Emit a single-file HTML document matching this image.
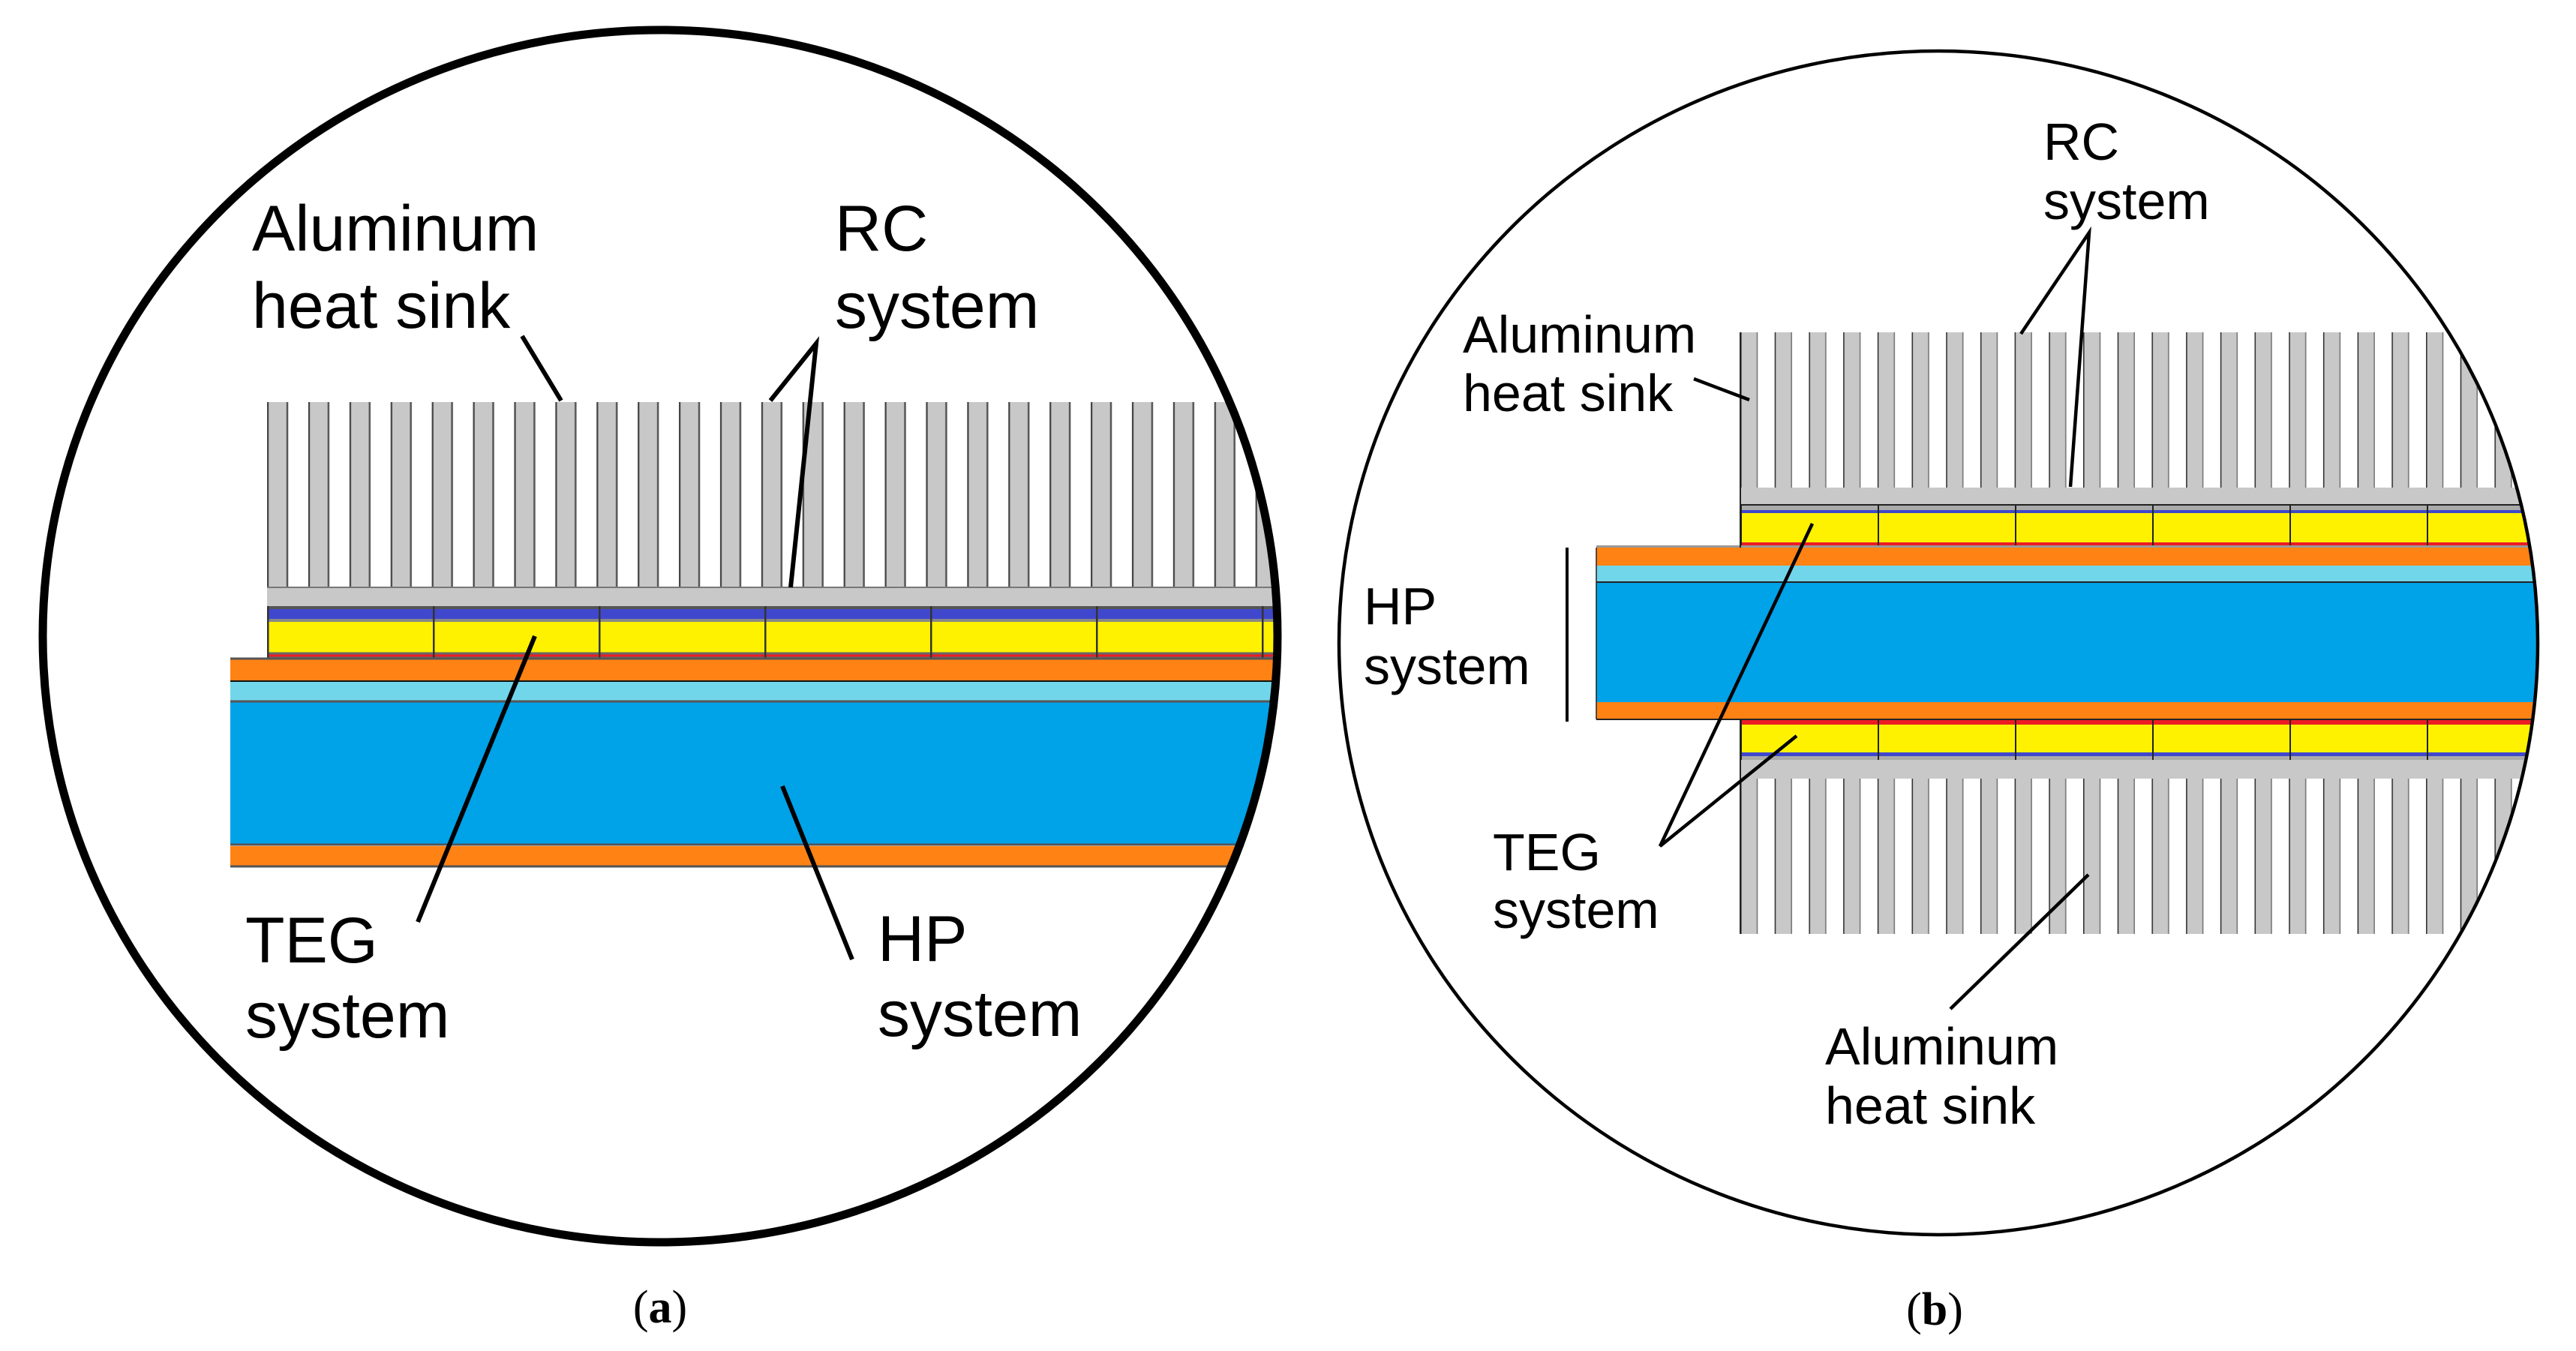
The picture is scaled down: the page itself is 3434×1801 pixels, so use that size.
<!DOCTYPE html>
<html><head><meta charset="utf-8"><style>
html,body{margin:0;padding:0;background:#fff;}
svg{display:block;}
.t{font-family:"Liberation Sans",Arial,sans-serif;fill:#000;}
.c{font-family:"Liberation Serif",serif;fill:#000;}
</style></head><body>
<svg width="3434" height="1801" viewBox="0 0 3434 1801" xmlns="http://www.w3.org/2000/svg">
<defs>
<clipPath id="ca"><ellipse cx="880" cy="848" rx="820" ry="806"/></clipPath>
<clipPath id="cb"><ellipse cx="2584" cy="857" rx="797" ry="787"/></clipPath>
<pattern id="fa" patternUnits="userSpaceOnUse" x="356" y="0" width="54.9" height="1801">
<rect x="0" y="0" width="28" height="1801" fill="#c8c8c8"/>
<line x1="1" y1="0" x2="1" y2="1801" stroke="#444" stroke-width="2.5"/>
<line x1="27" y1="0" x2="27" y2="1801" stroke="#555" stroke-width="2.5"/>
</pattern>
<pattern id="fb" patternUnits="userSpaceOnUse" x="2320" y="0" width="45.7" height="1801">
<rect x="0" y="0" width="23" height="1801" fill="#c8c8c8"/>
<line x1="0.8" y1="0" x2="0.8" y2="1801" stroke="#333" stroke-width="1.6"/>
<line x1="22.5" y1="0" x2="22.5" y2="1801" stroke="#777" stroke-width="1.6"/>
</pattern>
<pattern id="da" patternUnits="userSpaceOnUse" x="356" y="0" width="221" height="1801">
<line x1="1" y1="0" x2="1" y2="1801" stroke="#333" stroke-width="3"/>
</pattern>
<pattern id="db" patternUnits="userSpaceOnUse" x="2320" y="0" width="183" height="1801">
<line x1="1" y1="0" x2="1" y2="1801" stroke="#222" stroke-width="2"/>
</pattern>
</defs>

<!-- Panel a -->
<g clip-path="url(#ca)">
<rect x="356" y="536" width="1400" height="247" fill="url(#fa)"/>
<rect x="356" y="783" width="1400" height="25" fill="#c8c8c8"/>
<line x1="356" y1="783" x2="1756" y2="783" stroke="#777" stroke-width="2"/>
<rect x="356" y="808" width="1400" height="21" fill="#3f48cc"/>
<line x1="356" y1="810" x2="1756" y2="810" stroke="#555" stroke-width="4"/>
<line x1="356" y1="827" x2="1756" y2="827" stroke="#888" stroke-width="4"/>
<rect x="356" y="829" width="1400" height="41" fill="#fff200"/>
<rect x="356" y="870" width="1400" height="8" fill="#ed1c24"/>
<line x1="356" y1="871" x2="1756" y2="871" stroke="#666" stroke-width="3"/>
<line x1="356" y1="877" x2="1756" y2="877" stroke="#666" stroke-width="3"/>
<rect x="356" y="808" width="1400" height="70" fill="url(#da)"/>
<rect x="307" y="878" width="1450" height="30" fill="#ff8214"/>
<line x1="307" y1="878" x2="1757" y2="878" stroke="#555" stroke-width="3"/>
<rect x="307" y="908" width="1450" height="27" fill="#72d6ea"/>
<line x1="307" y1="908" x2="1757" y2="908" stroke="#111" stroke-width="2"/>
<rect x="307" y="935" width="1450" height="192" fill="#00a2e8"/>
<line x1="307" y1="935" x2="1757" y2="935" stroke="#555" stroke-width="3"/>
<line x1="307" y1="1126" x2="1757" y2="1126" stroke="#555" stroke-width="3"/>
<rect x="307" y="1128" width="1450" height="27" fill="#ff8214"/>
<line x1="307" y1="1155" x2="1757" y2="1155" stroke="#555" stroke-width="3"/>
</g>
<ellipse cx="880" cy="848" rx="823" ry="808" fill="none" stroke="#000" stroke-width="11"/>

<g stroke="#000" stroke-width="6" fill="none">
<line x1="696" y1="448" x2="748" y2="534"/>
<polyline points="1027,534 1088,458 1054,783"/>
<line x1="557" y1="1229" x2="713" y2="848"/>
<line x1="1136" y1="1279" x2="1043" y2="1048"/>
</g>
<g class="t" font-size="86">
<text x="336" y="334">Aluminum</text>
<text x="336" y="437">heat sink</text>
<text x="1113" y="334">RC</text>
<text x="1113" y="437">system</text>
<text x="327" y="1283">TEG</text>
<text x="327" y="1383">system</text>
<text x="1170" y="1281">HP</text>
<text x="1170" y="1381">system</text>
</g>
<text class="c" x="880" y="1763" font-size="62" text-anchor="middle">(<tspan font-weight="bold">a</tspan>)</text>

<!-- Panel b -->
<g clip-path="url(#cb)">
<rect x="2320" y="443" width="1100" height="207" fill="url(#fb)"/>
<rect x="2320" y="650" width="1100" height="23" fill="#c8c8c8"/>
<line x1="2320" y1="673" x2="3420" y2="673" stroke="#222" stroke-width="2"/>
<rect x="2320" y="674" width="1100" height="6" fill="#aaa"/>
<rect x="2320" y="680" width="1100" height="4" fill="#3f48cc"/>
<rect x="2320" y="684" width="1100" height="39" fill="#fff200"/>
<rect x="2320" y="723" width="1100" height="7" fill="#ed1c24"/>
<rect x="2320" y="673" width="1100" height="57" fill="url(#db)"/>
<rect x="2128" y="727" width="1300" height="3" fill="#999"/>
<rect x="2128" y="730" width="1300" height="24" fill="#ff8214"/>
<rect x="2128" y="754" width="1300" height="22" fill="#72d6ea"/>
<line x1="2128" y1="776" x2="3428" y2="776" stroke="#222" stroke-width="2"/>
<rect x="2128" y="777" width="1300" height="159" fill="#00a2e8"/>
<rect x="2128" y="936" width="1300" height="23" fill="#ff8214"/>
<line x1="2128" y1="959" x2="3428" y2="959" stroke="#222" stroke-width="2"/>
<rect x="2320" y="960" width="1100" height="6" fill="#ed1c24"/>
<rect x="2320" y="966" width="1100" height="37" fill="#fff200"/>
<rect x="2320" y="1003" width="1100" height="5" fill="#3f48cc"/>
<rect x="2320" y="1008" width="1100" height="5" fill="#aaa"/>
<rect x="2320" y="960" width="1100" height="53" fill="url(#db)"/>
<rect x="2320" y="1013" width="1100" height="25" fill="#c8c8c8"/>
<rect x="2320" y="1038" width="1100" height="207" fill="url(#fb)"/>
</g>
<line x1="2320" y1="443" x2="2320" y2="730" stroke="#222" stroke-width="2"/>
<line x1="2320" y1="960" x2="2320" y2="1245" stroke="#222" stroke-width="2"/>
<line x1="2128" y1="730" x2="2128" y2="959" stroke="#222" stroke-width="1.5"/>
<ellipse cx="2584" cy="857" rx="799" ry="789" fill="none" stroke="#000" stroke-width="4.5"/>

<g stroke="#000" stroke-width="4.5" fill="none">
<line x1="2258" y1="505" x2="2332" y2="533"/>
<polyline points="2694,445 2785,310 2760,649"/>
<polyline points="2416,698 2213,1128 2395,981"/>
<line x1="2600" y1="1345" x2="2784" y2="1166"/>
</g>
<line x1="2089" y1="730" x2="2089" y2="962" stroke="#000" stroke-width="4"/>
<g class="t" font-size="70">
<text x="2724" y="213">RC</text>
<text x="2724" y="292">system</text>
<text x="1950" y="470">Aluminum</text>
<text x="1950" y="548">heat sink</text>
<text x="1818" y="832">HP</text>
<text x="1818" y="912">system</text>
<text x="1990" y="1160">TEG</text>
<text x="1990" y="1237">system</text>
<text x="2433" y="1419">Aluminum</text>
<text x="2433" y="1498">heat sink</text>
</g>
<text class="c" x="2579" y="1766" font-size="62" text-anchor="middle">(<tspan font-weight="bold">b</tspan>)</text>
</svg>
</body></html>
